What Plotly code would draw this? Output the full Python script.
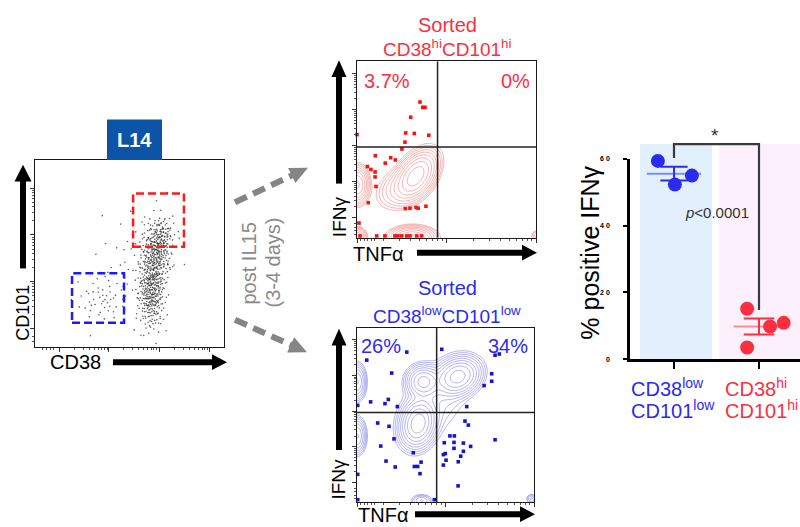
import math
import numpy as np
import plotly.graph_objects as go

W, H = 800, 527
FONT = "Liberation Sans, Arial, sans-serif"

# ---------------- data ----------------
# % IFNγ+ cells per donor in each sorted fraction
low_ifng = [59.4, 52.3, 55.0]
low_x = [-0.19, 0.01, 0.21]
hi_ifng = [15.1, 3.5, 9.8, 10.9]
hi_x = [0.86, 0.86, 1.13, 1.29]
group_x = [0, 1]

# quadrant frequencies (IFNγ+TNFα−, IFNγ+TNFα+)
hi_quadrants = ["3.7%", "0%"]
low_quadrants = ["26%", "34%"]
quad_tnf_cut = 45.0
quad_ifng_cut = 51.4

# L14 staining: CD38 / CD101 populations (scaled 0-100)
pop_cd38_mean = [61.5, 64.5, 67.5, 35.0, 52.0]
pop_cd101_mean = [30.0, 51.0, 61.0, 26.0, 42.0]
pop_cd38_sd = [3.6, 4.0, 3.6, 6.5, 10.0]
pop_cd101_sd = [10.0, 8.5, 4.8, 7.0, 14.0]
pop_events = [320, 250, 60, 45, 45]

# sort gates [x0, x1, y0, y1]
gate_hi = [51.9, 78.8, 53.7, 82.1]
gate_low = [19.6, 47.1, 13.2, 39.5]

# CD38hi CD101hi after IL15: density components and outlying events
hi_cx = [33.0, 22.0, 0.0, 0.0, 31.0, 100.0]
hi_cy = [35.0, 28.0, 30.0, 0.0, 0.0, 1.5]
hi_sx = [5.5, 6.0, 3.1, 2.5, 6.0, 1.5]
hi_sy = [6.5, 6.0, 5.0, 2.7, 3.0, 1.5]
hi_rho = [0.45, 0.3, 0.0, 0.0, 0.0, 0.0]
hi_peak = [1.0, 0.1, 0.5, 0.35, 0.55, 0.06]
hi_evt_tnf = [35.2, 36.7, 38.0, 30.0, 27.2, 32.0, 40.1, 26.8, 25.1, 10.2, 18.8, 21.4,
              15.8, 5.8, 7.8, 10.1, 10.1, 10.6, 6.3, 27.0, 29.6, 33.0, 34.2, 38.5,
              1.1, 0.0, 11.0, 15.6, 21.2, 22.9, 25.0, 27.8, 29.6, 33.4, 36.1, 1.7]
hi_evt_ifng = [76.9, 73.9, 73.9, 68.3, 59.4, 59.1, 58.1, 54.2, 50.3, 46.5, 45.4, 44.1,
               42.3, 40.4, 38.7, 37.3, 34.5, 29.1, 19.9, 16.6, 16.8, 17.2, 16.8, 17.9,
               8.4, 58.5, 1.1, 1.1, 1.1, 1.1, 1.1, 1.1, 1.1, 1.1, 1.1, 1.1]

# CD38low CD101low after IL15
low_cx = [57.0, 37.5, 34.5, 44.0, 0.0, 0.0, 36.5, 98.5]
low_cy = [72.0, 69.0, 45.0, 58.0, 69.0, 38.0, 1.0, 2.0]
low_sx = [5.8, 4.5, 4.6, 12.0, 2.5, 2.5, 3.0, 1.5]
low_sy = [5.0, 4.4, 6.3, 14.0, 5.0, 5.0, 1.8, 1.5]
low_rho = [0.2, 0.0, 0.15, 0.5, 0.0, 0.0, 0.0, 0.0]
low_peak = [0.9, 0.55, 1.0, 0.06, 0.3, 0.3, 0.12, 0.08]
low_evt_tnf = [5.5, 28.1, 47.9, 78.0, 80.4, 19.6, 76.1, 76.1, 71.8, 7.7, 15.8, 17.7,
               22.8, 62.0, 0.4, 11.7, 18.1, 61.0, 62.9, 13.4, 20.9, 52.5, 55.0, 49.3,
               54.8, 60.1, 64.2, 54.8, 49.9, 48.8, 60.1, 58.6, 50.3, 57.2, 48.8, 31.8,
               36.2, 34.3, 32.4, 16.4, 21.6, 35.6, 78.0, 57.1, 43.7, 0.4, 0.4]
low_evt_ifng = [81.4, 86.0, 87.6, 84.2, 84.9, 74.0, 73.6, 69.3, 66.8, 57.5, 56.5, 58.9,
                54.8, 54.8, 55.5, 45.4, 43.5, 46.5, 44.2, 32.2, 36.3, 38.0, 38.0, 34.1,
                34.3, 33.9, 32.0, 30.9, 27.9, 27.3, 29.2, 26.4, 24.1, 23.2, 21.3, 28.4,
                23.0, 20.5, 20.5, 23.6, 20.2, 16.4, 35.8, 9.4, 1.5, 1.5, 16.0]

BLUE = "#2b2bef"
RED = "#fb2f3f"


def px(x):
    return x / W


def py(y):
    return 1 - y / H


def halton(n, base, start):
    out = np.empty(n)
    for j in range(n):
        i, f, r = j + start, 1.0, 0.0
        while i > 0:
            f /= base
            r += f * (i % base)
            i //= base
        out[j] = r
    return out


def event_cloud():
    xs, ys, offset = [], [], 1
    for mx, my, sx, sy, n in zip(pop_cd38_mean, pop_cd101_mean, pop_cd38_sd,
                                 pop_cd101_sd, pop_events):
        u1 = halton(n, 2, offset)
        u2 = halton(n, 3, offset)
        rad = np.sqrt(-2 * np.log(u1))
        xs.append(mx + sx * rad * np.cos(2 * np.pi * u2))
        ys.append(my + sy * rad * np.sin(2 * np.pi * u2))
        offset += n + 17
    return np.concatenate(xs), np.concatenate(ys)


def density(cx, cy, sx, sy, rho, peak, grid):
    X, Y = np.meshgrid(grid, grid)
    Z = np.zeros_like(X)
    for a, b, s, t, r, w in zip(cx, cy, sx, sy, rho, peak):
        dx, dy = (X - a) / s, (Y - b) / t
        q = (dx * dx - 2 * r * dx * dy + dy * dy) / (1 - r * r)
        Z += w * np.exp(-0.5 * q)
    return np.log10(Z + 1e-6)


def log_ticks(starts, width, extra=()):
    major, minor = [], list(extra)
    for s in starts:
        major.append(s)
        for k in range(2, 10):
            minor.append(s + width * math.log10(k))
    major.append(starts[-1] + width)
    return major, minor


fig = go.Figure()

# ---- L14 CD38 / CD101 dot plot ----
cx_evt, cy_evt = event_cloud()
fig.add_trace(go.Scatter(x=cx_evt, y=cy_evt, mode="markers", xaxis="x", yaxis="y",
                         marker=dict(size=1.6, color="#1a1a1a", opacity=0.7),
                         hoverinfo="skip"))

# ---- contour plots ----
grid = np.linspace(-4, 104, 217)
for (cx, cy, sx, sy, rho, pk, ex, ey, col, dotcol, ax) in [
        (hi_cx, hi_cy, hi_sx, hi_sy, hi_rho, hi_peak, hi_evt_tnf, hi_evt_ifng,
         "rgba(240,90,90,0.8)", "#ff1010", "2"),
        (low_cx, low_cy, low_sx, low_sy, low_rho, low_peak, low_evt_tnf, low_evt_ifng,
         "rgba(95,95,225,0.8)", "#1515d0", "3")]:
    fig.add_trace(go.Contour(
        x=grid, y=grid, z=density(cx, cy, sx, sy, rho, pk, grid),
        xaxis="x" + ax, yaxis="y" + ax, showscale=False, hoverinfo="skip",
        contours=dict(coloring="lines", start=-1.74, end=0.4, size=0.2),
        colorscale=[[0, col], [1, col]], line=dict(width=0.6, smoothing=1)))
    fig.add_trace(go.Scatter(x=ex, y=ey, mode="markers", xaxis="x" + ax, yaxis="y" + ax,
                             marker=dict(symbol="square", size=3.6, color=dotcol),
                             cliponaxis=False, hoverinfo="skip"))

# ---- % IFNγ summary ----
for xs, ys, gx, col, mean_col, half, cap in [
        (low_x, low_ifng, group_x[0], BLUE, "#7f8ef5", 0.32, 0.16),
        (hi_x, hi_ifng, group_x[1], RED, "#ff8d8d", 0.30, 0.18)]:
    m = float(np.mean(ys))
    sem = float(np.std(ys, ddof=1) / math.sqrt(len(ys)))
    fig.add_trace(go.Scatter(x=[gx - half, gx + half], y=[m, m], mode="lines",
                             xaxis="x4", yaxis="y4", line=dict(color=mean_col, width=2),
                             hoverinfo="skip"))
    fig.add_trace(go.Scatter(
        x=[gx - cap, gx + cap, None, gx, gx, None, gx - cap, gx + cap],
        y=[m + sem, m + sem, None, m + sem, m - sem, None, m - sem, m - sem],
        mode="lines", xaxis="x4", yaxis="y4", line=dict(color=col, width=2),
        hoverinfo="skip"))
    fig.add_trace(go.Scatter(x=xs, y=ys, mode="markers", xaxis="x4", yaxis="y4",
                             marker=dict(size=14, color=col), cliponaxis=False,
                             hoverinfo="skip"))

# ---------------- axes ----------------
def flow_axis(dom, anchor, major, minor):
    return dict(domain=dom, anchor=anchor, range=[0, 100], showline=True, mirror=True,
                linecolor="#1a1a1a", linewidth=1, showgrid=False, zeroline=False,
                showticklabels=False, ticks="outside", tickmode="array", tickvals=major,
                ticklen=4, tickwidth=0.8, tickcolor="#333",
                minor=dict(tickmode="array", tickvals=minor, ticks="outside", ticklen=2,
                           tickwidth=0.6, tickcolor="#555"))


fx_major, fx_minor = log_ticks([0, 50], 50, extra=[2, 4, 6, 8, 10])
fy_major, fy_minor = log_ticks([11.4, 31.8, 52.2, 72.6], 20.4, extra=[2, 4, 6, 8])
lx_major, lx_minor = log_ticks([13, 39, 66], 26.5, extra=[4, 6, 8, 10])
ly_major, ly_minor = log_ticks([10, 35, 60], 25, extra=[3, 6])

layout_axes = dict(
    xaxis=flow_axis([px(35), px(224)], "y", lx_major, lx_minor),
    yaxis=flow_axis([py(348), py(158)], "x", ly_major, ly_minor),
    xaxis2=flow_axis([px(357), px(536)], "y2", fx_major, fx_minor),
    yaxis2=flow_axis([py(237), py(58)], "x2", fy_major, fy_minor),
    xaxis3=flow_axis([px(357), px(534)], "y3", fx_major, fx_minor),
    yaxis3=flow_axis([py(505), py(328)], "x3", fy_major, fy_minor),
    xaxis4=dict(domain=[px(630), 1.0], anchor="y4", range=[-0.518, 1.482],
                showline=True, linecolor="black", linewidth=2.5, showgrid=False,
                zeroline=False, ticks="outside", ticklen=7, tickwidth=2,
                tickcolor="black", tickvals=group_x, ticktext=["", ""]),
    yaxis4=dict(domain=[py(360), py(157)], anchor="x4", range=[0, 60],
                showline=True, linecolor="black", linewidth=2.5, showgrid=False,
                zeroline=False, ticks="outside", ticklen=4, tickwidth=2,
                tickcolor="black", tickvals=[0, 20, 40, 60],
                ticktext=["0", "2 0", "4 0", "6 0"], ticklabelstandoff=12,
                tickfont=dict(size=7, color="black", weight="bold")),
)

# ---------------- shapes ----------------
shapes = []


def rect_px(x0, y0, x1, y1, fill, layer="below"):
    shapes.append(dict(type="rect", xref="paper", yref="paper", x0=px(x0), x1=px(x1),
                       y0=py(y1), y1=py(y0), fillcolor=fill, line=dict(width=0),
                       layer=layer))


def arrow(x0, y0, x1, y1, color, w=6, hl=16, hw=16, dash=None):
    L = math.hypot(x1 - x0, y1 - y0)
    ux, uy = (x1 - x0) / L, (y1 - y0) / L
    bx, by = x1 - ux * hl, y1 - uy * hl
    line = dict(color=color, width=w)
    if dash:
        line["dash"] = dash
    shapes.append(dict(type="line", xref="paper", yref="paper", x0=px(x0), y0=py(y0),
                       x1=px(bx + ux), y1=py(by + uy), line=line, layer="above"))
    p1 = (bx - uy * hw / 2, by + ux * hw / 2)
    p2 = (bx + uy * hw / 2, by - ux * hw / 2)
    path = (f"M {px(x1)},{py(y1)} L {px(p1[0])},{py(p1[1])} "
            f"L {px(p2[0])},{py(p2[1])} Z")
    shapes.append(dict(type="path", xref="paper", yref="paper", path=path,
                       fillcolor=color, line=dict(width=0), layer="above"))


# background bands of the summary plot
rect_px(640, 142, 712, 360, "#e2effc")
rect_px(719, 142, 800, 360, "#fdf0fd")
# L14 header
rect_px(107, 117, 162, 158, "#0b54a6", layer="above")

# sort gates
for g, col in [(gate_hi, "#ff1a1a"), (gate_low, "#1a1aff")]:
    shapes.append(dict(type="rect", xref="x", yref="y", x0=g[0], x1=g[1], y0=g[2],
                       y1=g[3], line=dict(color=col, width=2.5, dash="8px,4px")))

# quadrant gates
for ax in ["2", "3"]:
    shapes.append(dict(type="line", xref="x" + ax, yref="y" + ax, x0=quad_tnf_cut,
                       x1=quad_tnf_cut, y0=0, y1=100,
                       line=dict(color="#222", width=1.5)))
    shapes.append(dict(type="line", xref="x" + ax, yref="y" + ax, x0=0, x1=100,
                       y0=quad_ifng_cut, y1=quad_ifng_cut,
                       line=dict(color="#222", width=1.5)))

# significance bracket
shapes.append(dict(type="path", xref="paper", yref="paper",
                   path=f"M {px(674)},{py(156)} L {px(674)},{py(142)} "
                        f"L {px(759)},{py(142)} L {px(759)},{py(310)}",
                   line=dict(color="#3a3a3a", width=2.2)))

# axis arrows
arrow(23, 268, 23, 163, "black", hl=17, hw=17)
arrow(113, 363, 227, 363, "black", hl=15, hw=16)
arrow(339, 182, 339, 57, "black", hl=17, hw=15)
arrow(417, 252, 537, 252, "black", hl=15, hw=16)
arrow(339, 452, 339, 329, "black", hl=17, hw=15)
arrow(415, 517, 535, 517, "black", hl=15, hw=16)
# culture arrows
arrow(235, 201, 308, 166, "#858585", w=6, hl=18, hw=17, dash="13px,7px")
arrow(235, 320, 307, 353, "#858585", w=6, hl=18, hw=17, dash="13px,7px")

# ---------------- text ----------------
ann = []


def label(text, x, y, size, color="black", angle=0, xanchor="center", **kw):
    ann.append(dict(text=text, x=px(x), y=py(y), xref="paper", yref="paper",
                    showarrow=False, xanchor=xanchor, yanchor="middle",
                    textangle=angle, font=dict(family=FONT, size=size, color=color),
                    **kw))


label("<b>L14</b>", 134.5, 138, 20, "white")
label("CD101", 23, 313, 18, angle=-90)
label("CD38", 75, 363, 20)
label("post IL15", 249, 263, 20, "#8a8a8a", angle=-90)
label("(3-4 days)", 273, 262, 20, "#8a8a8a", angle=-90)

label("Sorted", 447, 21, 20, RED)
label("CD38<sup>hi</sup>CD101<sup>hi</sup>", 447, 45, 19, RED)
label(hi_quadrants[0], 387, 78, 20, RED)
label(hi_quadrants[1], 532, 78, 20, RED, xanchor="right")
label("IFNγ", 339, 216, 19, angle=-90)
label("TNFα", 378, 253, 20)

label("Sorted", 447, 288, 20, BLUE)
label("CD38<sup>low</sup>CD101<sup>low</sup>", 447, 315, 19, BLUE)
label(low_quadrants[0], 381, 347, 20, BLUE)
label(low_quadrants[1], 530, 347, 20, BLUE, xanchor="right")
label("IFNγ", 339, 482, 19, angle=-90)
label("TNFα", 383, 518, 20)

label("% positive IFNγ", 590, 252, 25, angle=-90)
label("*", 715, 133, 19, "#333")
label("<i>p</i>&lt;0.0001", 717, 211, 15, "#333")
label("CD38<sup>low</sup>", 629, 389, 20, BLUE, xanchor="left")
label("CD101<sup>low</sup>", 629, 411, 20, BLUE, xanchor="left")
label("CD38<sup>hi</sup>", 723, 389, 20, RED, xanchor="left")
label("CD101<sup>hi</sup>", 723, 411, 20, RED, xanchor="left")

fig.update_layout(width=W, height=H, margin=dict(l=0, r=0, t=0, b=0),
                  paper_bgcolor="white", plot_bgcolor="rgba(0,0,0,0)",
                  showlegend=False, font=dict(family=FONT), shapes=shapes,
                  annotations=ann, **layout_axes)
fig.write_html("out.html")
